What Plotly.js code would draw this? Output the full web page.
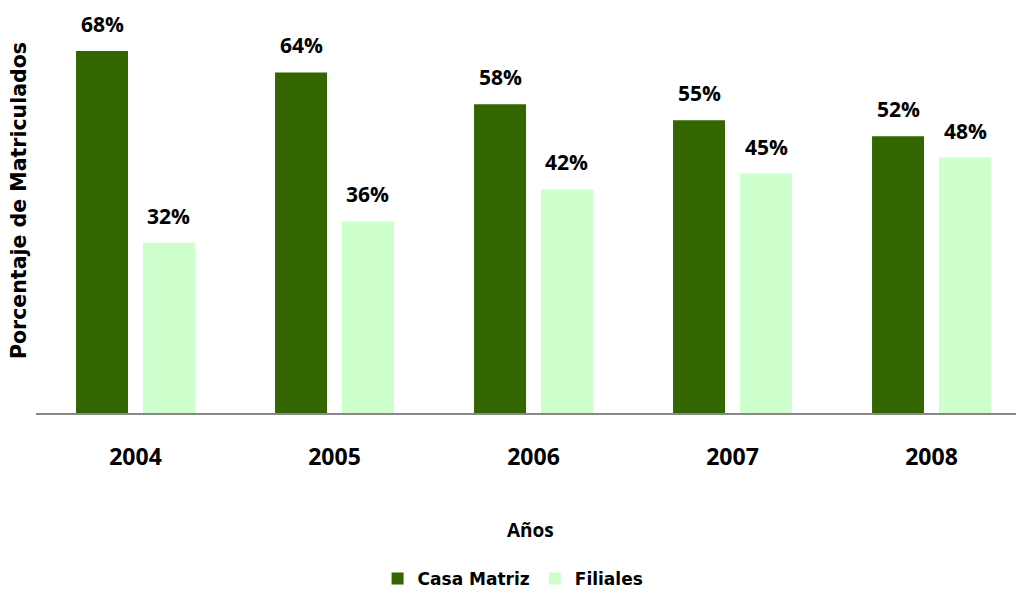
<!DOCTYPE html>
<html>
<head>
<meta charset="utf-8">
<script src="https://cdn.plot.ly/plotly-3.0.1.min.js"></script>
<style>html,body{margin:0;padding:0;background:#fff;}#chart{width:1016px;height:597px;}</style>
</head>
<body>
<div id="chart"></div>
<script>
const years = ['2004', '2005', '2006', '2007', '2008'];
const casaMatriz = [68, 64, 58, 55, 52];
const filiales = [32, 36, 42, 45, 48];
const seriesNames = ['Casa Matriz', 'Filiales'];
const seriesColors = ['#336600', '#CCFFCC'];
const xTitle = 'Años';
const yTitle = 'Porcentaje de Matriculados';

const calFont = 'Open Sans, Lato, sans-serif';
const arFont = 'DejaVu Sans, Liberation Sans, Arial, sans-serif';

const traces = [casaMatriz, filiales].map((vals, i) => ({
  type: 'bar',
  name: seriesNames[i],
  x: years,
  y: vals,
  marker: {color: seriesColors[i]},
  hoverinfo: 'skip'
}));

const annotations = [];
[casaMatriz, filiales].forEach((vals, i) => {
  vals.forEach((v, j) => {
    annotations.push({
      x: j + (i === 0 ? -1 : 1) * 0.1683,
      xref: 'x', y: v, yref: 'y',
      text: '<b>' + v + '%</b>',
      showarrow: false, yanchor: 'bottom', yshift: 11,
      font: {family: calFont, size: 21, color: '#000'}
    });
  });
});
annotations.push({
  text: '<b>' + xTitle + '</b>', showarrow: false,
  xref: 'paper', x: (530 - 36) / 980, xanchor: 'center',
  yref: 'paper', y: -(530 - 413) / 413, yanchor: 'middle',
  font: {family: calFont, size: 19, color: '#000'}
});
annotations.push({
  text: '<b>' + yTitle + '</b>', showarrow: false, textangle: -90,
  xref: 'paper', x: (19 - 36) / 980, xanchor: 'center',
  yref: 'paper', y: (413 - 201) / 413, yanchor: 'middle',
  font: {family: arFont, size: 20.5, color: '#000'}
});

const layout = {
  width: 1016, height: 597,
  margin: {l: 36, r: 0, t: 0, b: 184},
  paper_bgcolor: '#fff', plot_bgcolor: '#fff',
  barmode: 'group',
  bargap: 0.327,
  bargroupgap: 0.224,
  showlegend: true,
  legend: {
    orientation: 'h', x: 0.505, xanchor: 'center', xref: 'container',
    y: 0, yanchor: 'bottom', yref: 'container',
    font: {family: arFont, size: 17, color: '#000', weight: 'bold'},
    traceorder: 'normal', itemwidth: 30
  },
  xaxis: {
    type: 'category', automargin: false,
    range: [-0.5, 4.4246],
    showline: true, linecolor: '#888888', linewidth: 2,
    ticks: '', showgrid: false, zeroline: false,
    ticklabelstandoff: 22,
    tickfont: {family: calFont, size: 23, color: '#000', weight: 'bold'}
  },
  yaxis: {
    automargin: false,
    range: [0, 77.6],
    showline: false, showgrid: false, zeroline: false, showticklabels: false, ticks: ''
  },
  annotations: annotations
};

Plotly.newPlot('chart', traces, layout, {displayModeBar: false, staticPlot: true});
</script>
</body>
</html>
